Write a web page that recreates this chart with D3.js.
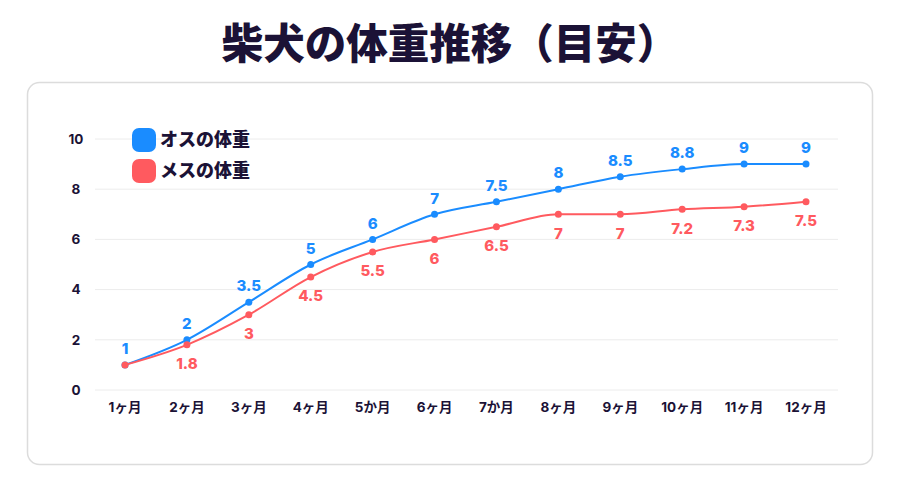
<!DOCTYPE html>
<html><head><meta charset="utf-8">
<script src="https://cdn.jsdelivr.net/npm/d3@7"></script>
<style>
body{margin:0;background:#fff;}
text{font-family:"Inter","Noto Sans CJK JP",sans-serif;}
</style></head>
<body><svg id="c" width="900" height="495"></svg>
<script>
const title = "柴犬の体重推移（目安）";
const categories = ["1ヶ月","2ヶ月","3ヶ月","4ヶ月","5か月","6ヶ月","7か月","8ヶ月","9ヶ月","10ヶ月","11ヶ月","12ヶ月"];
const maleName = "オスの体重";
const femaleName = "メスの体重";
const maleValues = [1,2,3.5,5,6,7,7.5,8,8.5,8.8,9,9];
const femaleValues = [1,1.8,3,4.5,5.5,6,6.5,7,7,7.2,7.3,7.5];
const yTicks = [0,2,4,6,8,10];

const blue = "#1a8cff", red = "#ff5a5f", dark = "#1b1236";
const svg = d3.select("#c");

svg.append("text").attr("x",450).attr("y",59).attr("text-anchor","middle")
  .attr("font-size",41.5).attr("font-weight",900).attr("fill",dark).text(title);

svg.append("rect").attr("x",27.5).attr("y",82.5).attr("width",845).attr("height",382)
  .attr("rx",12).attr("fill","#fff").attr("stroke","#dcdcdc").attr("stroke-width",1.5);

const x = d3.scalePoint().domain(categories).range([125,806]);
const y = d3.scaleLinear().domain([0,10]).range([390,139]);

const g = svg.append("g");
yTicks.forEach(t=>{
  g.append("line").attr("x1",95).attr("x2",838).attr("y1",y(t)).attr("y2",y(t))
    .attr("stroke","#ececec").attr("stroke-width",1);
  g.append("text").attr("x",76).attr("y",y(t)).attr("dy","0.35em").attr("text-anchor","middle")
    .attr("font-size",13.5).attr("font-weight",700).attr("fill",dark).text(t);
});
categories.forEach(c=>{
  g.append("text").attr("x",x(c)).attr("y",407).attr("dy","0.35em").attr("text-anchor","middle")
    .attr("font-size",13.5).attr("font-weight",700).attr("fill",dark).text(c);
});

const line = d3.line().x((d,i)=>x(categories[i])).y(d=>y(d)).curve(d3.curveMonotoneX);
function series(vals,color,above,skipFirst){
  g.append("path").attr("d",line(vals)).attr("fill","none").attr("stroke",color).attr("stroke-width",2);
  vals.forEach((v,i)=>{
    g.append("circle").attr("cx",x(categories[i])).attr("cy",y(v)).attr("r",3.5).attr("fill",color);
    if(skipFirst && i===0) return;
    g.append("text").attr("x",x(categories[i])).attr("y",above? y(v)-16 : y(v)+19)
      .attr("dy","0.35em").attr("text-anchor","middle").attr("font-size",15).attr("font-weight",800)
      .attr("fill",color).text(v);
  });
}
series(maleValues,blue,true,false);
series(femaleValues,red,false,true);

const legend = [[maleName,blue],[femaleName,red]];
legend.forEach((l,i)=>{
  const ly = 128 + i*31;
  svg.append("rect").attr("x",132).attr("y",ly).attr("width",24).attr("height",24).attr("rx",7).attr("fill",l[1]);
  svg.append("text").attr("x",160).attr("y",ly+12).attr("dy","0.35em").attr("font-size",18)
    .attr("font-weight",800).attr("fill",dark).text(l[0]);
});
</script></body></html>
